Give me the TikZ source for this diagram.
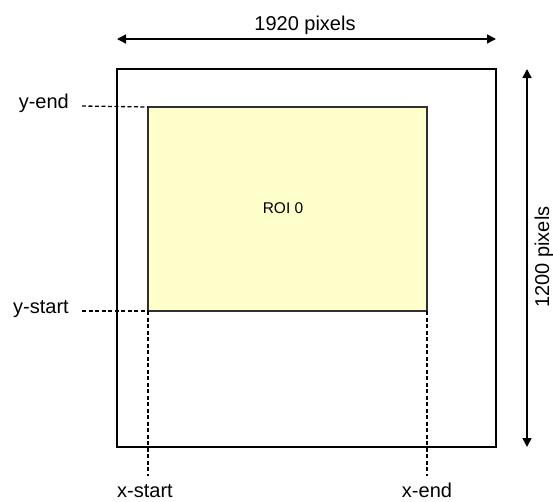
\documentclass[tikz,border=0pt]{standalone}
\usepackage{fontspec}
\setmainfont{Liberation Sans}
\usetikzlibrary{arrows.meta}
\definecolor{roifill}{HTML}{FFFFCC}
\definecolor{roiedge}{HTML}{303030}
\begin{document}
\begin{tikzpicture}[x=1pt,y=-1pt,
  lbl/.style={inner sep=0pt,font=\fontsize{20}{24}\selectfont},
  guide/.style={draw=black,line width=1.3pt,dash pattern=on 4pt off 2.5pt},
  dimarrow/.style={draw=black,line width=1.6pt,{Triangle[length=9pt,width=9pt]}-{Triangle[length=9pt,width=9pt]}},
  frame/.style={draw=black,line width=1.8pt},
  roibox/.style={draw=roiedge,fill=roifill,line width=1.5pt}]
\useasboundingbox (0,0) rectangle (553,501);
% coordinates
\coordinate (fTL) at (117,69);
\coordinate (fBR) at (496,447);
\coordinate (rTL) at (148,107);
\coordinate (rBR) at (427,311);
\coordinate (rBL) at (148,311);
\coordinate (rTR) at (427,107);
\coordinate (aL) at (117,39);
\coordinate (aR) at (496,39);
\coordinate (vT) at (527,69);
\coordinate (vB) at (527,447);
\coordinate (xsEnd) at (148,476);
\coordinate (xeEnd) at (427,476);
% shapes
\draw[frame] (fTL) rectangle (fBR);
\draw[roibox] (rTL) rectangle (rBR);
\node[inner sep=0pt,font=\fontsize{15.5}{18}\selectfont] (roi) at (283,208) {ROI 0};
% labels
\node[lbl,anchor=mid east] (yend) at (69,106) {y-end};
\node[lbl,anchor=mid east] (ystart) at (69,311) {y-start};
\node[lbl,anchor=base] (xstart) at (145,497) {x-start};
\node[lbl,anchor=base] (xend) at (427,497) {x-end};
\node[lbl,anchor=base] (w) at (305,30) {1920 pixels};
\node[lbl,anchor=base,rotate=90] (h) at (549,257) {1200 pixels};
% guides
\draw[guide] ([xshift=13pt]yend.mid east) -- (rTL);
\draw[guide] ([xshift=13pt]ystart.mid east) -- (rBL);
\draw[guide] (rBL) -- (xsEnd);
\draw[guide] (rBR) -- (xeEnd);
% dimension arrows
\draw[dimarrow] (aL) -- (aR);
\draw[dimarrow] (vT) -- (vB);
\end{tikzpicture}
\end{document}
